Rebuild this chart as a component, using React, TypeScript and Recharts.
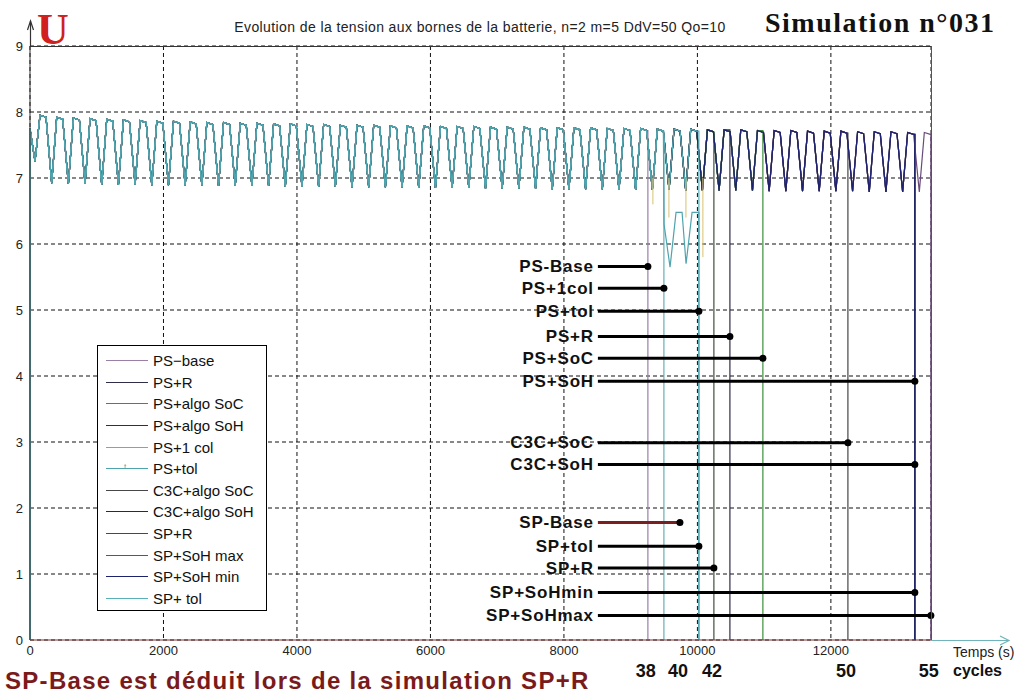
import { LineChart, Line, XAxis, YAxis, CartesianGrid } from "recharts";

// trough instants (s) of each charge/discharge cycle
const troughTimes = [
  75, 325, 575, 825, 1075, 1325, 1575, 1825, 2075, 2325,
  2575, 2825, 3075, 3325, 3575, 3825, 4075, 4325, 4575, 4825,
  5075, 5325, 5575, 5825, 6075, 6325, 6575, 6825, 7075, 7325,
  7575, 7825, 8075, 8325, 8575, 8825, 9075, 9325, 9575, 9825,
  10075, 10325, 10575, 10825, 11075, 11325, 11575, 11825, 12075, 12325,
  12575, 12825, 13075, 13325,
];

const peakValues = [
  7.95, 7.92, 7.91, 7.9, 7.89, 7.88, 7.87, 7.86, 7.86, 7.85,
  7.84, 7.84, 7.83, 7.83, 7.82, 7.82, 7.81, 7.81, 7.8, 7.8,
  7.8, 7.79, 7.79, 7.79, 7.78, 7.78, 7.78, 7.77, 7.77, 7.77,
  7.76, 7.76, 7.76, 7.76, 7.75, 7.75, 7.75, 7.74, 7.74, 7.74,
  7.73, 7.73, 7.73, 7.72, 7.72, 7.72, 7.71, 7.71, 7.71, 7.7,
  7.7, 7.7, 7.69, 7.69,
];

const troughValues = [
  7.25, 6.92, 6.91, 6.91, 6.9, 6.9, 6.9, 6.89, 6.89, 6.89,
  6.89, 6.88, 6.88, 6.88, 6.88, 6.87, 6.87, 6.87, 6.87, 6.86,
  6.86, 6.86, 6.86, 6.85, 6.85, 6.85, 6.85, 6.84, 6.84, 6.84,
  6.84, 6.83, 6.83, 6.83, 6.83, 6.82, 6.82, 6.82, 6.82, 6.81,
  6.81, 6.81, 6.81, 6.81, 6.8, 6.8, 6.8, 6.8, 6.8, 6.8,
  6.79, 6.79, 6.79, 6.79,
];

// legend order
const seriesNames = [
  "PS\u2212base", "PS+R", "PS+algo SoC", "PS+algo SoH", "PS+1 col", "PS+tol",
  "C3C+algo SoC", "C3C+algo SoH", "SP+R", "SP+SoH max", "SP+SoH min", "SP+ tol",
];
const seriesEnds = [9258, 10487, 10981, 13258, 9498, 10022, 12255, 13258, 10247, 13498, 13258, 10022];
const seriesColors = [
  "#9a7fa8", "#2e2e4a", "#3d8f3d", "#303036", "#66b0b8", "#4fa3ad",
  "#474747", "#2a2a3c", "#3f503f", "#6a4a7a", "#1c2270", "#5ab0b8",
];
// drawing order (navy above the dark ones, teal ones on top)
const drawOrder = [0, 3, 6, 7, 9, 1, 8, 2, 10, 4, 11, 5];

// PS+tol leaves the common curve after ~9500 s
const tolTailTimes = [9500, 9590, 9680, 9770, 9830, 9920, 10010];
const tolTailValues = [6.3, 5.65, 6.48, 6.48, 5.7, 6.48, 6.48];
// yellow "tol" spikes
const tolMarkTimes = [9333, 9573, 9828, 10082];
const tolMarkLows = [6.6, 6.4, 6.4, 5.8];

// annotation bars
const barNames = ["PS-Base", "PS+1col", "PS+tol", "PS+R", "PS+SoC", "PS+SoH", "C3C+SoC", "C3C+SoH", "SP-Base", "SP+tol", "SP+R", "SP+SoHmin", "SP+SoHmax"];
const barLevels = [5.66, 5.33, 4.98, 4.6, 4.27, 3.92, 2.99, 2.66, 1.78, 1.42, 1.09, 0.72, 0.37];
const barEnds = [9258, 9498, 10022, 10487, 10981, 13258, 12255, 13258, 9738, 10022, 10247, 13258, 13498];
const barStart = 8509;

const cycleLabels = ["38", "40", "42", "50", "55"];
const cycleTimes = [9258, 9738, 10247, 12255, 13498];

const xTicks = [0, 2000, 4000, 6000, 8000, 10000, 12000];
const yTicks = [0, 1, 2, 3, 4, 5, 6, 7, 8, 9];

type Pt = { t: number; v: number | null };

const baseWave: Pt[] = [{ t: 0, v: 0 }, { t: 0, v: 7.75 }];
troughTimes.forEach((T, i) => {
  baseWave.push({ t: T, v: troughValues[i] });
  baseWave.push({ t: T + 75, v: peakValues[i] });
  baseWave.push({ t: T + 165, v: peakValues[i] - 0.03 });
});

function buildSeries(idx: number): Pt[] {
  const end = seriesEnds[idx];
  const isTol = seriesNames[idx] === "PS+tol";
  const cut = isTol ? tolTailTimes[0] : end;
  const pts = baseWave.filter((p) => p.t < cut);
  if (isTol) tolTailTimes.forEach((t, i) => pts.push({ t, v: tolTailValues[i] }));
  const last = pts[pts.length - 1];
  pts.push({ t: end, v: last.v });
  if (idx === 9) pts.push({ t: end, v: 3.85 });
  pts.push({ t: end, v: 0 });
  return pts;
}

const tolMarks: Pt[] = [];
tolMarkTimes.forEach((t, i) => {
  tolMarks.push({ t, v: 7.0 }, { t, v: tolMarkLows[i] }, { t, v: null });
});

const X0 = 30;
const X1 = 931;
const XMAX = 13500;
const px = (t: number) => X0 + (t / XMAX) * (X1 - X0);

const sans = "'Liberation Sans', Arial, Helvetica, sans-serif";
const serif = "'Liberation Serif', 'Times New Roman', serif";

export default function App() {
  return (
    <div style={{ position: "relative", width: 1021, height: 693, background: "#fff", fontFamily: sans, overflow: "hidden" }}>
      <style>{"body{margin:0}"}</style>
      <LineChart width={1021} height={693} margin={{ top: 46, right: 90, bottom: 0, left: 0 }}>
        <CartesianGrid stroke="#111" strokeDasharray="4 3" />
        <XAxis
          dataKey="t"
          type="number"
          domain={[0, XMAX]}
          ticks={xTicks}
          height={53}
          tickSize={0}
          tickMargin={6}
          tick={{ fontSize: 13, fill: "#222", fontFamily: sans }}
          axisLine={{ stroke: "#7a3535" }}
        />
        <YAxis
          type="number"
          domain={[0, 9]}
          ticks={yTicks}
          width={30}
          tickSize={0}
          tickMargin={7}
          tick={{ fontSize: 13, fill: "#222", fontFamily: sans }}
          axisLine={{ stroke: "#333" }}
        />
        {drawOrder.map((i) => (
          <Line
            key={seriesNames[i]}
            data={buildSeries(i)}
            dataKey="v"
            type="linear"
            stroke={seriesColors[i]}
            strokeWidth={1.2}
            dot={false}
            isAnimationActive={false}
          />
        ))}
        <Line data={tolMarks} dataKey="v" type="linear" stroke="#d8c070" strokeWidth={1} dot={false} isAnimationActive={false} />
        {barNames.map((name, i) => (
          <Line
            key={"bar-" + name}
            data={[{ t: barStart, v: barLevels[i] }, { t: barEnds[i], v: barLevels[i] }]}
            dataKey="v"
            type="linear"
            stroke={name === "SP-Base" ? "#7a1f1f" : "#000"}
            strokeWidth={3}
            isAnimationActive={false}
            dot={(p: any) =>
              p.index === 0 ? (
                <text
                  key={"lbl-" + name}
                  x={p.cx - 4}
                  y={p.cy}
                  textAnchor="end"
                  dominantBaseline="central"
                  fontSize={17}
                  fontWeight="bold"
                  letterSpacing={0.8}
                  fill="#111"
                  fontFamily={sans}
                >
                  {name}
                </text>
              ) : (
                <circle key={"dot-" + name} cx={p.cx} cy={p.cy} r={3.5} fill="#000" />
              )
            }
          />
        ))}
      </LineChart>

      <svg width={1021} height={693} style={{ position: "absolute", left: 0, top: 0, pointerEvents: "none" }}>
        <line x1={30} y1={46.5} x2={X1} y2={46.5} stroke="#333" strokeWidth={1.2} />
        <line x1={X1 + 0.5} y1={46} x2={X1 + 0.5} y2={640} stroke="#555" strokeWidth={1} />
        <line x1={X1} y1={640.5} x2={1009} y2={640.5} stroke="#6fb3bb" strokeWidth={1.2} />
        <polyline points="1000,636 1009,640.5 1000,645" fill="none" stroke="#6fb3bb" strokeWidth={1.2} />
        <line x1={30.5} y1={46} x2={30.5} y2={21} stroke="#333" strokeWidth={1.2} />
        <polyline points="27.5,30 30.5,21 33.5,30" fill="none" stroke="#333" strokeWidth={1.2} />
      </svg>

      <div style={{ position: "absolute", left: 480, top: 19, transform: "translateX(-50%)", fontSize: 14, letterSpacing: 0.4, color: "#222", whiteSpace: "nowrap", lineHeight: "16px" }}>
        Evolution de la tension aux bornes de la batterie, n=2 m=5 DdV=50 Qo=10
      </div>
      <div style={{ position: "absolute", left: 765, top: 8, fontFamily: serif, fontWeight: "bold", fontSize: 28, letterSpacing: 1.5, color: "#111", whiteSpace: "nowrap", lineHeight: "30px" }}>
        Simulation n°031
      </div>
      <div style={{ position: "absolute", left: 37, top: 8, fontFamily: serif, fontWeight: "bold", fontSize: 44, color: "#d02020", lineHeight: "44px" }}>
        U
      </div>

      {/* legend */}
      <div style={{ position: "absolute", left: 97, top: 345, width: 170, height: 266, border: "1px solid #000", background: "#fff", boxSizing: "border-box" }}>
        {seriesNames.map((name, i) => (
          <div key={name} style={{ position: "absolute", left: 0, top: 4 + i * 21.6, height: 21.6, width: 168, display: "flex", alignItems: "center" }}>
            <div style={{ position: "relative", marginLeft: 8, width: 42, height: 1, background: seriesColors[i] }}>
              {name === "PS+tol" && (
                <span style={{ position: "absolute", left: 18, top: -6, fontSize: 8, color: seriesColors[i], lineHeight: "10px" }}>t</span>
              )}
            </div>
            <span style={{ marginLeft: 5, fontSize: 15, color: "#111", whiteSpace: "nowrap" }}>{name}</span>
          </div>
        ))}
      </div>

      {cycleLabels.map((c, i) => (
        <div key={c} style={{ position: "absolute", left: px(cycleTimes[i]) - 2, top: 662, transform: "translateX(-50%)", fontSize: 18, fontWeight: "bold", lineHeight: "18px", color: "#111" }}>
          {c}
        </div>
      ))}
      <div style={{ position: "absolute", left: 953, top: 663, fontSize: 16, fontWeight: "bold", lineHeight: "16px", color: "#111" }}>cycles</div>
      <div style={{ position: "absolute", left: 953, top: 644, fontSize: 14, lineHeight: "16px", color: "#222" }}>Temps (s)</div>

      <div style={{ position: "absolute", left: 5, top: 669, fontSize: 24, fontWeight: "bold", letterSpacing: 1.3, lineHeight: "24px", color: "#7b1a1a", whiteSpace: "nowrap" }}>
        SP-Base est déduit lors de la simulation SP+R
      </div>
    </div>
  );
}
